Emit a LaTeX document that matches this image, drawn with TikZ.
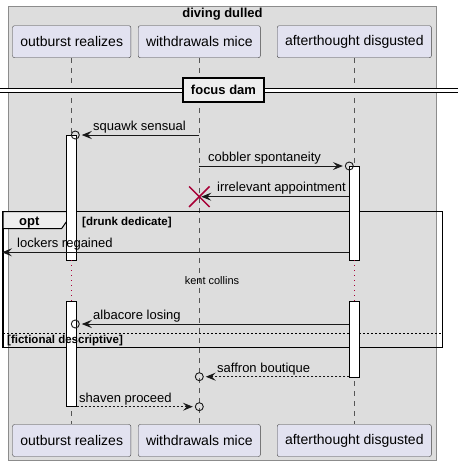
\documentclass[tikz,border=0pt]{standalone}
\usepackage{fontspec}
\setmainfont{Liberation Sans}
\usetikzlibrary{arrows.meta}
\usetikzlibrary{shapes.misc}
\usetikzlibrary{positioning}
\usetikzlibrary{calc}
\definecolor{boxgrey}{HTML}{DDDDDD}
\definecolor{partfill}{HTML}{E2E2F0}
\definecolor{tabfill}{HTML}{EEEEEE}
\definecolor{crimson}{HTML}{A80036}
\definecolor{lifegrey}{HTML}{555555}
\tikzset{part/.style={draw=black!75, fill=partfill, rounded corners=2pt, minimum height=32pt,
            inner xsep=7.8pt, font=\fontsize{14}{16}\selectfont},
         life/.style={draw=lifegrey, dash pattern=on 5pt off 5pt, line width=0.5pt},
         actbar/.style={draw=black, fill=white, line width=0.9pt},
         msg/.style={draw=black!90, line width=0.8pt, shorten >=2pt,
            -{Stealth[length=10pt,width=8pt,inset=4pt]}},
         reply/.style={msg, dash pattern=on 2pt off 2pt},
         endc/.style={circle, draw=black!90, line width=0.9pt, minimum size=8pt, inner sep=0pt},
         lbl/.style={font=\fontsize{13}{15}\selectfont, anchor=base west, inner sep=0pt},
         guard/.style={font=\bfseries\fontsize{11.5}{13}\selectfont, anchor=base west, inner sep=0pt},
         delaydots/.style={draw=crimson, line width=1pt, dash pattern=on 1pt off 4pt}}
\begin{document}
\begin{tikzpicture}[x=1pt, y=-1pt]
\useasboundingbox (0,0) rectangle (458,466);
% the box round the participants
\draw[fill=boxgrey, draw=black!45, line width=0.8pt] (8.3,6) rectangle (436.7,460.7);
\node[font=\bfseries\fontsize{13}{15}\selectfont, anchor=base] (title) at (222.5,17.3) {diving dulled};
% participants
\node[part] (oTop) at (71.7,41.7) {outburst realizes};
\node[part] (wTop) at (199.3,41.7) {withdrawals mice};
\node[part] (aTop) at (354.3,41.7) {afterthought disgusted};
\node[part] (oBot) at (71.7,440.5) {outburst realizes};
\node[part] (wBot) at (199.3,440.5) {withdrawals mice};
\node[part] (aBot) at (354.3,440.5) {afterthought disgusted};
% lifelines
\coordinate (oDelayA) at (71.7,260);
\coordinate (oDelayB) at (71.7,301);
\coordinate (aDelayA) at (354.3,260);
\coordinate (aDelayB) at (354.3,301);
\draw[life] (oTop) -- (oDelayA) (oDelayB) -- (oBot);
\draw[life] (wTop) -- (wBot);
\draw[life] (aTop) -- (aDelayA) (aDelayB) -- (aBot);
% separator
\coordinate (sepL) at (0,90.3);
\coordinate (sepR) at (458,90.3);
\draw[double, double distance=3pt, line width=1pt] (sepL) -- (sepR);
\node[draw, line width=2pt, fill=tabfill, minimum width=81pt, minimum height=24pt,
      font=\bfseries\fontsize{13}{15}\selectfont] (focus) at (223.5,89.7) {focus dam};
% opt frame
\draw[line width=1.5pt] (3,211.7) rectangle (442.7,347.7);
\draw[fill=tabfill, line width=1pt] (3,211.7) -- (68.3,211.7) -- (68.3,219) -- (61.7,228.5)
      -- (3,228.5) -- cycle;
\draw[dash pattern=on 2pt off 2pt, line width=0.8pt] (3,333.3) -- (442.7,333.3);
% activations
\draw[actbar] (66.7,135) rectangle (76.7,260);
\draw[actbar] (66.7,301) rectangle (76.7,406.7);
\draw[actbar] (349.3,166.7) rectangle (359.3,260);
\draw[actbar] (349.3,301) rectangle (359.3,377.3);
\node[guard, font=\bfseries\fontsize{13}{15}\selectfont] (optname) at (19,225) {opt};
\node[guard] (guard1) at (82,225) {[drunk dedicate]};
\node[guard] (guard2) at (7,343.5) {[fictional descriptive]};
% delay
\draw[delaydots] (oDelayA) -- (oDelayB);
\draw[delaydots] (aDelayA) -- (aDelayB);
\node[font=\fontsize{11}{13}\selectfont, anchor=base] (delay) at (212,284) {kent collins};
% messages
\coordinate (m1s) at (199.3,135);
\node[endc] (m1e) at (75.3,135) {};
\draw[msg] (m1s) -- (m1e);
\node[lbl] (m1l) at (93,130.5) {squawk sensual};

\coordinate (m2s) at (199.3,166);
\node[endc] (m2e) at (349.3,166) {};
\draw[msg] (m2s) -- (m2e);
\node[lbl] (m2l) at (208,161) {cobbler spontaneity};

\coordinate (m3s) at (349.3,196.7);
\coordinate (m3e) at (199.3,196.7);
\draw[msg] (m3s) -- (m3e);
\node[cross out, draw=crimson, line width=1.5pt, minimum size=19pt, inner sep=0pt] (m3x) at (m3e) {};
\node[lbl] (m3l) at (217,191.7) {irrelevant appointment};

\coordinate (m4s) at (349.3,252.3);
\coordinate (m4e) at (0,252.3);
\draw[msg] (m4s) -- (m4e);
\node[lbl] (m4l) at (17,247) {lockers regained};

\coordinate (m5s) at (349.3,324);
\node[endc] (m5e) at (75.3,324) {};
\draw[msg] (m5s) -- (m5e);
\node[lbl] (m5l) at (93,319.3) {albacore losing};

\coordinate (m6s) at (349.3,376.7);
\node[endc] (m6e) at (199.3,376.7) {};
\draw[reply] (m6s) -- (m6e);
\node[lbl] (m6l) at (217,372.3) {saffron boutique};

\coordinate (m7s) at (76.7,406.7);
\node[endc] (m7e) at (199.3,406.7) {};
\draw[reply] (m7s) -- (m7e);
\node[lbl] (m7l) at (79,402.3) {shaven proceed};
\end{tikzpicture}
\end{document}
